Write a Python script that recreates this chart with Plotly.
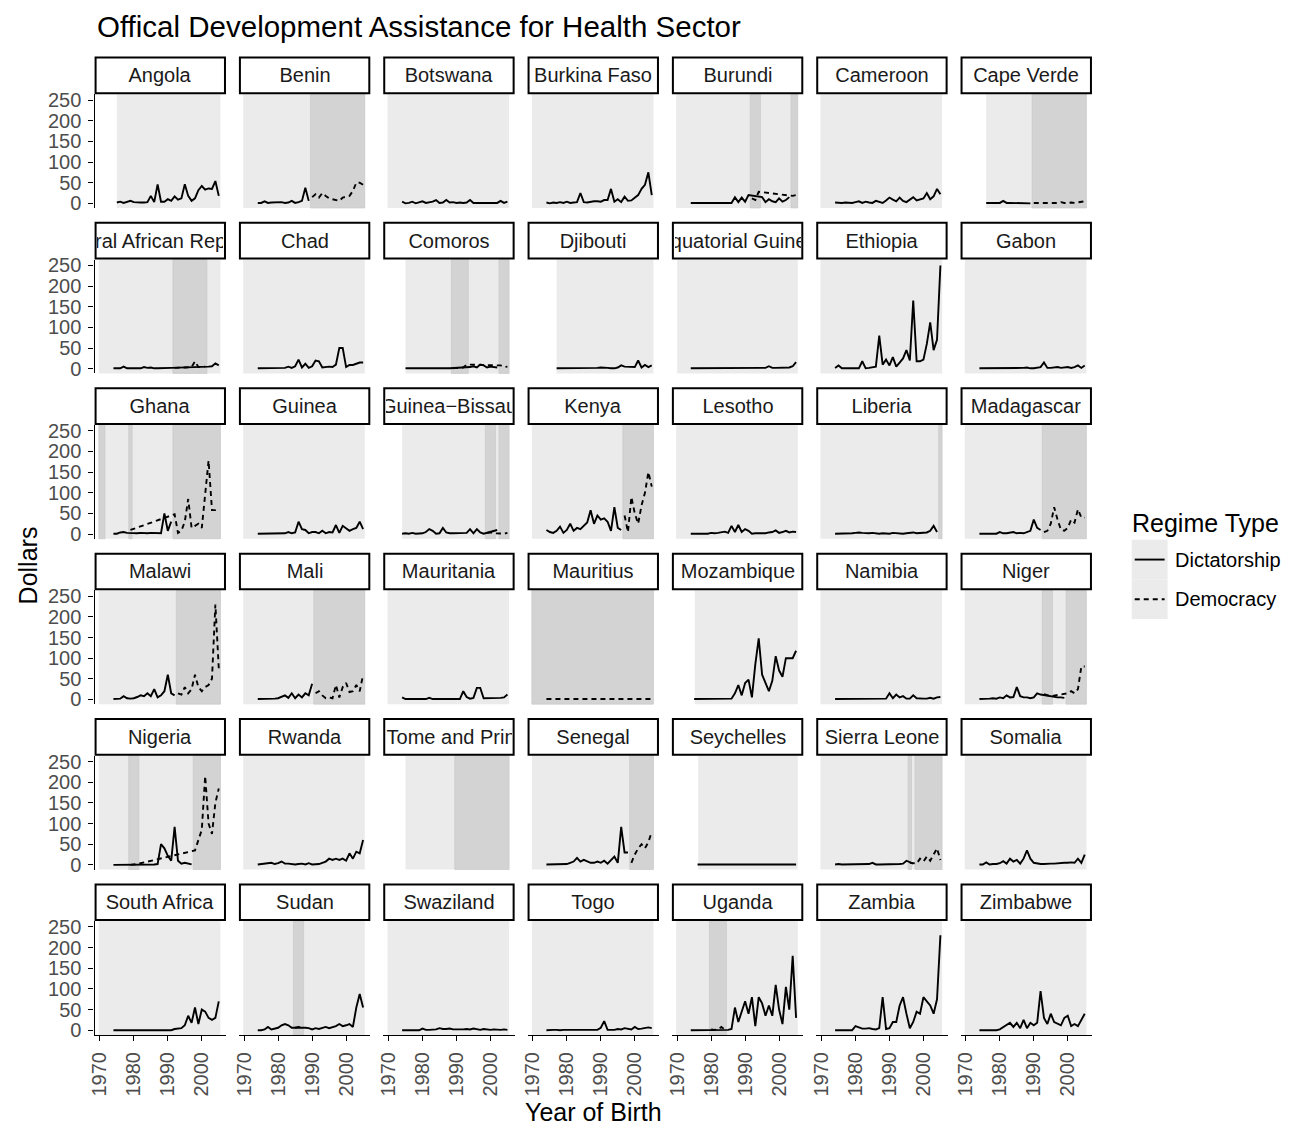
import plotly.graph_objects as go

# ---------------------------------------------------------------- data
countries = [
    "Angola", "Benin", "Botswana", "Burkina Faso", "Burundi", "Cameroon", "Cape Verde",
    "Central African Republic", "Chad", "Comoros", "Djibouti", "Equatorial Guinea", "Ethiopia", "Gabon",
    "Ghana", "Guinea", "Guinea\u2212Bissau", "Kenya", "Lesotho", "Liberia", "Madagascar",
    "Malawi", "Mali", "Mauritania", "Mauritius", "Mozambique", "Namibia", "Niger",
    "Nigeria", "Rwanda", "Sao Tome and Principe", "Senegal", "Seychelles", "Sierra Leone", "Somalia",
    "South Africa", "Sudan", "Swaziland", "Togo", "Uganda", "Zambia", "Zimbabwe",
]

# first year with a regime record (start of the shaded period)
regime_start = [
    1975, 1969.7, 1969.7, 1969.7, 1969.7, 1969.7, 1976,
    1969.7, 1969.7, 1975, 1977, 1970, 1969.7, 1969.7,
    1969.7, 1969.7, 1974, 1969.7, 1969.7, 1969.7, 1969.7,
    1969.7, 1969.7, 1969.7, 1969.7, 1975.2, 1969.7, 1969.7,
    1969.7, 1969.7, 1975, 1969.7, 1976.2, 1969.7, 1969.7,
    1969.7, 1969.7, 1969.7, 1969.7, 1969.7, 1969.7, 1969.7,
]
REGIME_END = 2005.5

# first year of each aid series
series_start = [
    1975, 1974, 1974, 1974, 1974, 1974, 1976,
    1974, 1974, 1975, 1977, 1974, 1974, 1974,
    1974, 1974, 1974, 1974, 1974, 1974, 1974,
    1974, 1974, 1974, 1974, 1975, 1974, 1974,
    1974, 1974, 1975, 1974, 1976, 1974, 1974,
    1974, 1974, 1974, 1974, 1974, 1974, 1974,
]

# democratic spells (inclusive years)
democracy = [
    [], [[1990, 2005]], [], [], [[1992, 1994], [2004, 2005]], [], [[1990, 2005]],
    [[1992, 2001]], [], [[1989, 1993], [2003, 2005]], [], [], [], [],
    [[1970, 1971], [1979, 1979], [1992, 2005]], [], [[1999, 2001], [2003, 2005]], [[1997, 2005]], [], [[2005, 2005]], [[1993, 2005]],
    [[1993, 2005]], [[1991, 2005]], [], [[1970, 2005]], [], [], [[1993, 1995], [2000, 2005]],
    [[1979, 1981], [1998, 2005]], [], [[1990, 2005]], [[1999, 2005]], [], [[1996, 1996], [1998, 2005]], [],
    [], [[1985, 1987]], [], [], [[1980, 1984]], [], [],
]

# health ODA, dollars, one value per year from series_start
angola = [2, 4, 1, 3, 6, 3, 2, 2, 2, 3, 18, 3, 46, 4, 4, 10, 6, 17, 9, 12, 46, 18, 6, 12, 32, 42, 33, 36, 35, 54, 18]
benin = [1, 1, 5, 1, 2, 2, 2, 3, 1, 2, 6, 1, 3, 6, 38, 6, 15, 22, 14, 25, 18, 12, 10, 8, 6, 14, 16, 18, 30, 50, 50, 45]
botswana = [4, 0, 1, 4, 0, 3, 5, 1, 2, 4, 8, 1, 2, 8, 2, 3, 1, 2, 1, 2, 8, 1, 1, 1, 1, 1, 1, 1, 1, 6, 1, 4]
burkina_faso = [2, 0, 2, 1, 3, 1, 4, 1, 2, 3, 25, 3, 2, 4, 5, 5, 4, 8, 8, 35, 4, 10, 3, 16, 6, 7, 14, 20, 35, 45, 75, 20]
burundi = [1, 1, 1, 1, 1, 1, 1, 1, 1, 1, 1, 1, 1, 15, 3, 14, 4, 20, 12, 8, 28, 15, 3, 10, 5, 3, 12, 4, 8, 15, 18, 20]
cameroon = [2, 1, 1, 2, 1, 1, 3, 5, 1, 4, 2, 1, 6, 3, 1, 7, 14, 9, 5, 14, 6, 3, 8, 15, 7, 9, 12, 25, 10, 17, 35, 22]
cape_verde = [1, 1, 1, 1, 1, 6, 1, 1, 1, 1, 0, 0, 0, 0, 1, 1, 2, 1, 1, 2, 1, 1, 3, 1, 1, 2, 1, 2, 3, 5]
central_african_rep = [1, 1, 1, 5, 1, 1, 1, 1, 1, 4, 2, 3, 1, 1, 1, 1, 2, 2, 2, 3, 3, 3, 4, 4, 18, 4, 5, 5, 5, 6, 13, 8]
chad = [1, 1, 1, 1, 1, 1, 1, 1, 2, 5, 2, 6, 22, 3, 12, 2, 6, 20, 18, 3, 4, 5, 4, 10, 50, 50, 4, 9, 9, 13, 15, 15]
comoros = [1, 1, 1, 1, 1, 1, 1, 1, 1, 1, 1, 1, 1, 1, 1, 2, 1, 3, 10, 4, 6, 3, 10, 8, 3, 5, 4, 3, 8, 4, 5]
djibouti = [1, 1, 1, 1, 1, 2, 1, 1, 1, 2, 1, 1, 2, 3, 3, 2, 1, 1, 3, 8, 5, 5, 4, 4, 20, 3, 9, 4, 8]
equatorial_guinea = [1, 1, 1, 1, 1, 1, 1, 1, 1, 1, 1, 1, 1, 1, 1, 1, 1, 1, 1, 1, 1, 1, 2, 6, 2, 2, 2, 2, 2, 3, 6, 16]
ethiopia = [2, 8, 1, 1, 1, 1, 1, 1, 18, 1, 2, 3, 5, 80, 10, 22, 8, 28, 5, 15, 25, 45, 20, 165, 18, 18, 22, 60, 112, 45, 70, 250]
gabon = [1, 1, 1, 1, 1, 1, 2, 1, 1, 1, 1, 1, 1, 2, 3, 1, 1, 2, 4, 15, 2, 2, 3, 4, 2, 3, 4, 2, 4, 8, 2, 8]
ghana = [1, 1, 4, 5, 3, 10, 2, 2, 3, 2, 2, 3, 3, 3, 2, 50, 8, 30, 48, 3, 8, 30, 85, 15, 20, 25, 15, 100, 178, 58, 58, 62]
guinea = [1, 1, 1, 2, 1, 1, 1, 2, 2, 5, 2, 4, 30, 12, 10, 2, 5, 5, 2, 8, 2, 5, 4, 22, 3, 20, 14, 8, 12, 15, 30, 12]
guinea_bissau = [1, 2, 1, 3, 1, 1, 2, 5, 12, 8, 1, 2, 15, 4, 2, 2, 2, 2, 2, 3, 12, 2, 12, 4, 1, 3, 4, 2, 10, 2, 1, 3]
kenya = [10, 5, 3, 8, 18, 3, 10, 25, 8, 15, 12, 20, 28, 58, 25, 45, 35, 38, 30, 8, 65, 15, 10, 45, 5, 90, 50, 25, 70, 100, 150, 115]
lesotho = [1, 1, 2, 1, 2, 1, 3, 2, 3, 4, 6, 3, 20, 5, 22, 5, 12, 8, 1, 2, 2, 3, 2, 4, 5, 9, 3, 5, 8, 4, 6, 5]
liberia = [1, 1, 2, 1, 2, 2, 3, 4, 3, 2, 2, 3, 2, 1, 2, 2, 1, 3, 2, 2, 1, 2, 3, 4, 2, 3, 3, 4, 8, 20, 5, 5]
madagascar = [1, 1, 1, 2, 2, 1, 5, 2, 2, 3, 5, 2, 3, 2, 5, 8, 35, 15, 10, 5, 8, 25, 65, 35, 10, 8, 15, 35, 28, 60, 40, 40]
malawi = [1, 1, 2, 8, 3, 2, 3, 6, 10, 8, 15, 8, 25, 5, 10, 20, 60, 15, 10, 15, 12, 30, 15, 25, 60, 30, 20, 30, 35, 50, 230, 75]
mali = [1, 1, 2, 2, 1, 2, 3, 6, 10, 4, 15, 3, 12, 5, 15, 10, 38, 15, 20, 10, 3, 5, 3, 35, 5, 30, 40, 18, 20, 35, 20, 60]
mauritania = [5, 1, 1, 1, 1, 1, 1, 1, 4, 1, 1, 1, 1, 1, 1, 1, 1, 1, 20, 6, 2, 4, 28, 28, 3, 3, 3, 3, 3, 4, 5, 12]
mauritius = [1, 1, 1, 1, 1, 1, 1, 2, 1, 1, 1, 1, 1, 1, 1, 1, 1, 1, 1, 1, 1, 1, 1, 1, 1, 1, 1, 1, 1, 1, 1, 1]
mozambique = [1, 1, 1, 1, 1, 1, 1, 1, 1, 1, 1, 2, 15, 35, 10, 40, 48, 5, 85, 148, 60, 40, 20, 45, 105, 70, 55, 100, 100, 100, 118]
namibia = [1, 1, 1, 1, 1, 1, 1, 1, 1, 1, 1, 1, 1, 1, 1, 2, 15, 3, 12, 5, 8, 2, 2, 10, 3, 2, 2, 2, 4, 2, 5, 6]
niger = [1, 1, 1, 2, 3, 2, 5, 3, 10, 5, 6, 30, 8, 5, 5, 3, 5, 15, 12, 13, 10, 8, 6, 5, 5, 4, 15, 20, 15, 25, 80, 80]
nigeria = [0, 0, 0, 0, 0, 0, 1, 2, 0, 0, 0, 0, 1, 2, 50, 40, 22, 10, 92, 10, 3, 5, 3, 1, 35, 60, 85, 215, 100, 75, 150, 185]
rwanda = [1, 2, 3, 3, 5, 2, 4, 8, 3, 3, 2, 1, 2, 3, 1, 4, 1, 1, 2, 5, 8, 15, 12, 15, 12, 15, 10, 28, 15, 32, 28, 60]
sao_tome = []
senegal = [1, 1, 1, 1, 1, 1, 2, 5, 8, 17, 8, 12, 8, 5, 5, 8, 5, 10, 3, 12, 20, 5, 92, 30, 30, 5, 25, 40, 50, 40, 55, 80]
seychelles = [1, 1, 1, 1, 2, 1, 1, 1, 1, 1, 1, 1, 2, 1, 1, 1, 1, 1, 1, 2, 1, 1, 1, 1, 1, 1, 1, 1, 1, 1]
sierra_leone = [1, 2, 1, 1, 1, 1, 1, 1, 1, 2, 2, 5, 1, 1, 1, 1, 1, 2, 2, 2, 3, 10, 5, 3, 3, 15, 8, 20, 10, 25, 40, 12]
somalia = [1, 1, 6, 1, 2, 2, 4, 9, 3, 15, 8, 12, 3, 15, 35, 15, 5, 3, 2, 2, 3, 3, 3, 4, 4, 5, 5, 6, 5, 15, 5, 25]
south_africa = [0, 0, 0, 0, 0, 0, 0, 0, 0, 0, 0, 0, 0, 0, 0, 1, 0, 0, 3, 4, 5, 12, 35, 18, 55, 15, 50, 45, 30, 25, 30, 70]
sudan = [0, 0, 2, 8, 2, 4, 6, 12, 15, 12, 6, 6, 8, 6, 6, 5, 2, 5, 3, 6, 8, 5, 8, 10, 15, 10, 12, 15, 8, 55, 88, 55]
swaziland = [0, 0, 0, 1, 1, 0, 4, 1, 1, 2, 2, 5, 3, 3, 4, 2, 2, 1, 2, 3, 2, 4, 2, 1, 3, 2, 1, 2, 1, 1, 2, 1]
togo = [0, 1, 1, 1, 0, 1, 1, 1, 0, 1, 1, 1, 1, 1, 1, 1, 6, 22, 1, 1, 1, 3, 2, 5, 3, 2, 8, 3, 4, 5, 7, 5]
uganda = [0, 0, 0, 0, 1, 1, 2, 1, 2, 8, 2, 1, 3, 55, 20, 45, 70, 40, 80, 10, 80, 65, 35, 60, 35, 110, 50, 15, 105, 50, 180, 30]
zambia = [0, 0, 0, 1, 0, 0, 10, 6, 4, 4, 5, 3, 2, 5, 80, 3, 5, 20, 20, 60, 80, 40, 5, 20, 45, 40, 80, 70, 60, 40, 75, 230]
zimbabwe = [0, 0, 0, 0, 0, 0, 2, 8, 12, 18, 8, 18, 5, 25, 5, 18, 12, 18, 95, 30, 15, 40, 20, 15, 12, 30, 35, 10, 15, 10, 25, 40]

values = [
    angola, benin, botswana, burkina_faso, burundi, cameroon, cape_verde,
    central_african_rep, chad, comoros, djibouti, equatorial_guinea, ethiopia, gabon,
    ghana, guinea, guinea_bissau, kenya, lesotho, liberia, madagascar,
    malawi, mali, mauritania, mauritius, mozambique, namibia, niger,
    nigeria, rwanda, sao_tome, senegal, seychelles, sierra_leone, somalia,
    south_africa, sudan, swaziland, togo, uganda, zambia, zimbabwe,
]

x_ticks = [1970, 1980, 1990, 2000]
y_ticks = [0, 50, 100, 150, 200, 250]

# ---------------------------------------------------------------- layout
W, H = 1294, 1134
NCOL = 7
COL0, COL_STEP, PANEL_W = 89, 145, 132
ROW0, ROW_STEP, PANEL_H = 90, 167, 115
STRIP_H = 38
X_RANGE = [1968.45, 2007.12]
Y_RANGE = [-11.3, 264.4]

FONT = "Liberation Sans, Arial, Helvetica, sans-serif"
LIGHT = "#EBEBEB"
DARK = "#D3D3D3"
LINE_W = 1.9
DASH = "5px,4px"
TICK_FONT = dict(family=FONT, size=20, color="#4D4D4D")

fig = go.Figure()
shapes, annotations = [], []
layout = {}

for i, name in enumerate(countries):
    r, c = divmod(i, NCOL)
    n = i + 1
    sfx = "" if n == 1 else str(n)
    px0 = COL0 + COL_STEP * c
    px1 = px0 + PANEL_W
    py0 = ROW0 + ROW_STEP * r
    py1 = py0 + PANEL_H

    layout["xaxis" + sfx] = dict(
        domain=[px0 / W, px1 / W], anchor="y" + sfx, range=X_RANGE,
        showgrid=False, zeroline=False, showline=(r == 5), linecolor="black", linewidth=1.4,
        ticks="outside" if r == 5 else "", ticklen=5, tickwidth=1.3, tickcolor="black",
        tickvals=x_ticks, showticklabels=(r == 5), tickangle=-90, ticklabelstandoff=3,
        tickfont=TICK_FONT, fixedrange=True,
    )
    layout["yaxis" + sfx] = dict(
        domain=[1 - py1 / H, 1 - py0 / H], anchor="x" + sfx, range=Y_RANGE,
        showgrid=False, zeroline=False, showline=(c == 0), linecolor="black", linewidth=1.4,
        ticks="outside" if c == 0 else "", ticklen=5, tickwidth=1.3, tickcolor="black",
        tickvals=y_ticks, showticklabels=(c == 0), ticklabelstandoff=3,
        tickfont=TICK_FONT, fixedrange=True,
    )

    xref, yref = "x" + sfx, "y" + sfx + " domain"
    start = regime_start[i]
    # regime shading: whole record, then democratic spells on top
    shapes.append(dict(type="rect", xref=xref, yref=yref, x0=start, x1=REGIME_END, y0=0, y1=1,
                       fillcolor=LIGHT, line=dict(width=0), layer="below"))
    for a, b in democracy[i]:
        shapes.append(dict(type="rect", xref=xref, yref=yref,
                           x0=max(a - 0.5, start), x1=min(b + 0.5, REGIME_END), y0=0, y1=1,
                           fillcolor=DARK, line=dict(width=0.6, color="#C6C6C6"), layer="below"))

    # aid series split by regime
    vals = values[i]
    years = [series_start[i] + k for k in range(len(vals))]
    demo_years = set()
    for a, b in democracy[i]:
        demo_years.update(range(a, b + 1))
    xd = [y for y in years if y not in demo_years]
    yd = [v for y, v in zip(years, vals) if y not in demo_years]
    xm = [y for y in years if y in demo_years]
    ym = [v for y, v in zip(years, vals) if y in demo_years]
    if xd:
        fig.add_trace(go.Scatter(x=xd, y=yd, xaxis="x" + sfx, yaxis="y" + sfx, mode="lines",
                                 line=dict(color="black", width=LINE_W), showlegend=False,
                                 hoverinfo="skip"))
    if xm:
        fig.add_trace(go.Scatter(x=xm, y=ym, xaxis="x" + sfx, yaxis="y" + sfx, mode="lines",
                                 line=dict(color="black", width=LINE_W, dash=DASH),
                                 showlegend=False, hoverinfo="skip"))

    # facet strip
    sy1 = py0
    sy0 = py0 - STRIP_H
    shapes.append(dict(type="rect", xref="paper", yref="paper",
                       x0=(px0 + 1) / W, x1=(px1 - 1) / W, y0=1 - (sy1 - 1) / H, y1=1 - (sy0 + 1) / H,
                       fillcolor="white", line=dict(color="black", width=2)))
    annotations.append(dict(x=(px0 + px1) / 2 / W, y=1 - (sy0 + sy1) / 2 / H, xref="paper", yref="paper",
                            text=name, showarrow=False, xanchor="center", yanchor="middle",
                            width=PANEL_W - 6, align="center",
                            font=dict(family=FONT, size=20, color="#1A1A1A")))

# titles
annotations.append(dict(x=COL0 / W, y=1 - 22 / H, xref="paper", yref="paper",
                        text="Offical Development Assistance for Health Sector", showarrow=False,
                        xanchor="left", yanchor="middle", font=dict(family=FONT, size=29.5, color="black")))
annotations.append(dict(x=590 / W, y=1 - 1118 / H, xref="paper", yref="paper", text="Year of Birth",
                        showarrow=False, xanchor="center", yanchor="middle",
                        font=dict(family=FONT, size=25, color="black")))
annotations.append(dict(x=22 / W, y=1 - 566 / H, xref="paper", yref="paper", text="Dollars",
                        showarrow=False, xanchor="center", yanchor="middle", textangle=-90,
                        font=dict(family=FONT, size=25, color="black")))

# legend
annotations.append(dict(x=1129 / W, y=1 - 523 / H, xref="paper", yref="paper", text="Regime Type",
                        showarrow=False, xanchor="left", yanchor="middle",
                        font=dict(family=FONT, size=25, color="black")))
legend_items = [("Dictatorship", "solid", 560), ("Democracy", DASH, 600)]
for label, dash, ky in legend_items:
    shapes.append(dict(type="rect", xref="paper", yref="paper",
                       x0=1131 / W, x1=1167 / W, y0=1 - (ky + 20) / H, y1=1 - (ky - 20) / H,
                       fillcolor=LIGHT, line=dict(width=0)))
    shapes.append(dict(type="line", xref="paper", yref="paper",
                       x0=1134 / W, x1=1164 / W, y0=1 - ky / H, y1=1 - ky / H,
                       line=dict(color="black", width=LINE_W, dash=dash)))
    annotations.append(dict(x=1172 / W, y=1 - ky / H, xref="paper", yref="paper", text=label,
                            showarrow=False, xanchor="left", yanchor="middle",
                            font=dict(family=FONT, size=20, color="black")))

fig.update_layout(
    width=W, height=H, margin=dict(l=0, r=0, t=0, b=0),
    paper_bgcolor="white", plot_bgcolor="white",
    shapes=shapes, annotations=annotations, showlegend=False,
    **layout,
)

fig.write_html("out.html")
